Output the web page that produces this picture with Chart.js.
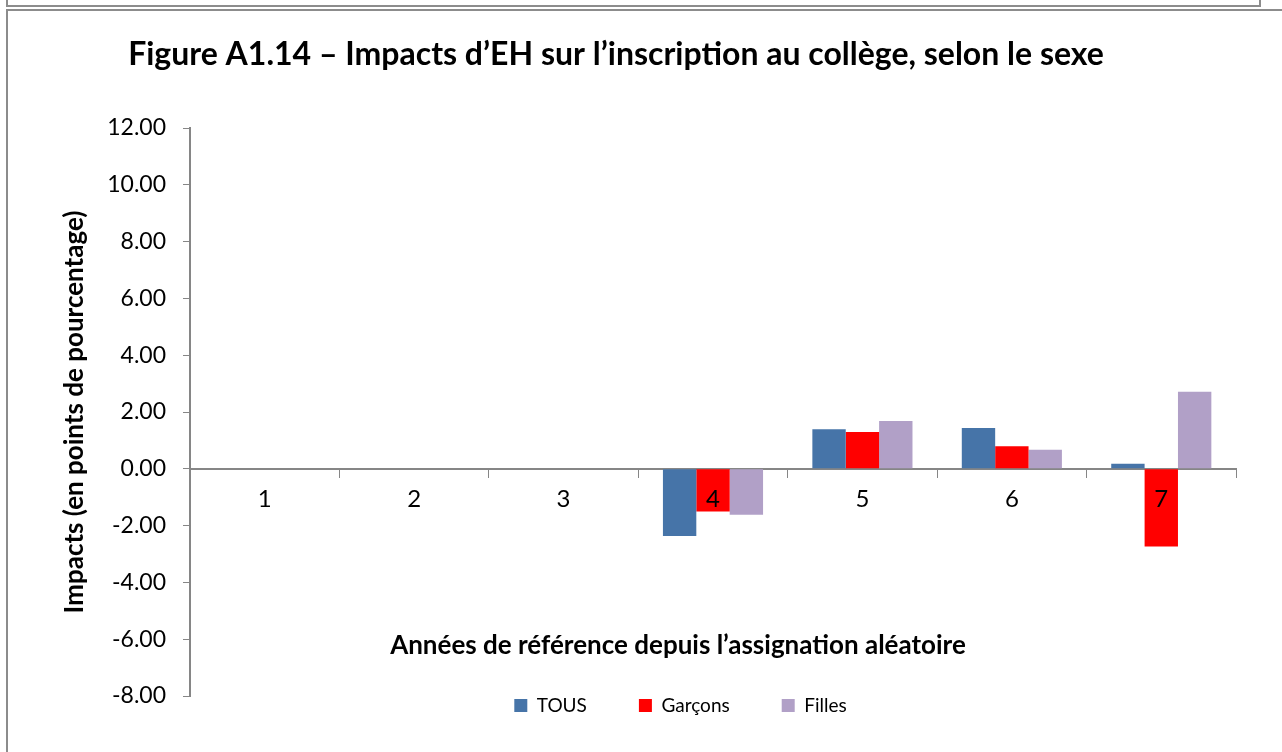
<!DOCTYPE html>
<html lang="fr">
<head>
<meta charset="utf-8">
<title>Figure A1.14</title>
<script src="https://cdn.jsdelivr.net/npm/chart.js@4/dist/chart.umd.min.js"></script>
<style>
    body { margin: 0; background: #fff; }
    #wrap { position: relative; width: 1282px; height: 752px; overflow: hidden; }
    #prevBox { position: absolute; left: 6px; top: -20px; width: 1251px; height: 23px; border: 2px solid #8c8c8c; }
    #frame { position: absolute; left: 6px; top: 9px; width: 1300px; height: 800px; border: 2px solid #8c8c8c; }
    canvas { position: absolute; left: 0; top: 0; }
</style>
</head>
<body>
<div id="wrap">
    <div id="prevBox"></div>
    <div id="frame"></div>
    <canvas id="impactsChart" width="1282" height="752"></canvas>
</div>
<script>
const years = ['1', '2', '3', '4', '5', '6', '7'];
const tous = [null, null, null, -2.37, 1.39, 1.44, 0.18];
const garcons = [null, null, null, -1.50, 1.30, 0.79, -2.74];
const filles = [null, null, null, -1.62, 1.68, 0.67, 2.71];
const yTicks = { min: -8, max: 12, step: 2 };

const chartTitle = 'Figure A1.14 \u2013 Impacts d\u2019EH sur l\u2019inscription au collège, selon le sexe';
const xTitle = 'Années de référence depuis l\u2019assignation aléatoire';

const FONT = 'Lato, "Open Sans", sans-serif';
const AXIS_GREY = '#868686';

// main title and x-axis title (the x title sits inside the plot, above the legend)
const titlesPlugin = {
    id: 'titles',
    afterDraw(chart) {
        const { ctx, chartArea } = chart;
        ctx.save();
        ctx.fillStyle = '#000';
        ctx.textAlign = 'center';
        ctx.textBaseline = 'middle';
        ctx.font = 'bold 32px ' + FONT;
        ctx.fillText(chartTitle, 616, 55);
        ctx.font = 'bold 26px ' + FONT;
        ctx.fillText(xTitle, (chartArea.left + chartArea.right) / 2 - 35, chartArea.bottom - 50);
        ctx.restore();
    }
};

// the legend uses wide item padding; pull it up so it hugs the plot
const legendShift = {
    id: 'legendShift',
    afterLayout(chart) {
        const lg = chart.legend;
        lg.top -= 52;
        lg.bottom -= 52;
        lg.left += 33;
        lg.right += 33;
    }
};

const data = {
    labels: years,
    datasets: [
        { label: 'TOUS', data: tous, backgroundColor: '#4674A8' },
        { label: 'Garçons', data: garcons, backgroundColor: '#FF0000' },
        { label: 'Filles', data: filles, backgroundColor: '#B1A0C7' }
    ]
};

const config = {
    type: 'bar',
    data: data,
    options: {
        responsive: false,
        animation: false,
        layout: { padding: { top: 128, left: 59, right: 46, bottom: -25 } },
        datasets: { bar: { categoryPercentage: 0.67, barPercentage: 1.0, borderWidth: 0 } },
        plugins: {
            legend: {
                position: 'bottom',
                labels: {
                    color: '#000',
                    font: { family: FONT, size: 19 },
                    boxWidth: 13,
                    boxHeight: 13,
                    padding: 52
                }
            },
            tooltip: { enabled: false }
        },
        scales: {
            x: {
                position: { y: 0 },
                grid: {
                    display: true,
                    drawOnChartArea: false,
                    drawTicks: true,
                    tickLength: 8,
                    color: AXIS_GREY
                },
                border: { color: AXIS_GREY, width: 2 },
                ticks: {
                    z: 1,
                    color: '#000',
                    font: { family: FONT, size: 24 },
                    padding: 8,
                    maxRotation: 0
                }
            },
            y: {
                min: yTicks.min,
                max: yTicks.max,
                grid: {
                    display: true,
                    drawOnChartArea: false,
                    drawTicks: true,
                    tickLength: 7,
                    color: AXIS_GREY
                },
                border: { color: AXIS_GREY, width: 2 },
                ticks: {
                    stepSize: yTicks.step,
                    color: '#000',
                    font: { family: FONT, size: 23 },
                    padding: 17,
                    callback: (v) => v.toFixed(2)
                },
                title: {
                    display: true,
                    text: 'Impacts (en points de pourcentage)',
                    color: '#000',
                    font: { family: FONT, size: 26, weight: 'bold' },
                    padding: { top: 0, bottom: 0 }
                }
            }
        }
    },
    plugins: [titlesPlugin, legendShift]
};

const impactsChart = new Chart(// eslint-disable-line
    document.getElementById('impactsChart'),
    config
);
</script>
</body>
</html>
